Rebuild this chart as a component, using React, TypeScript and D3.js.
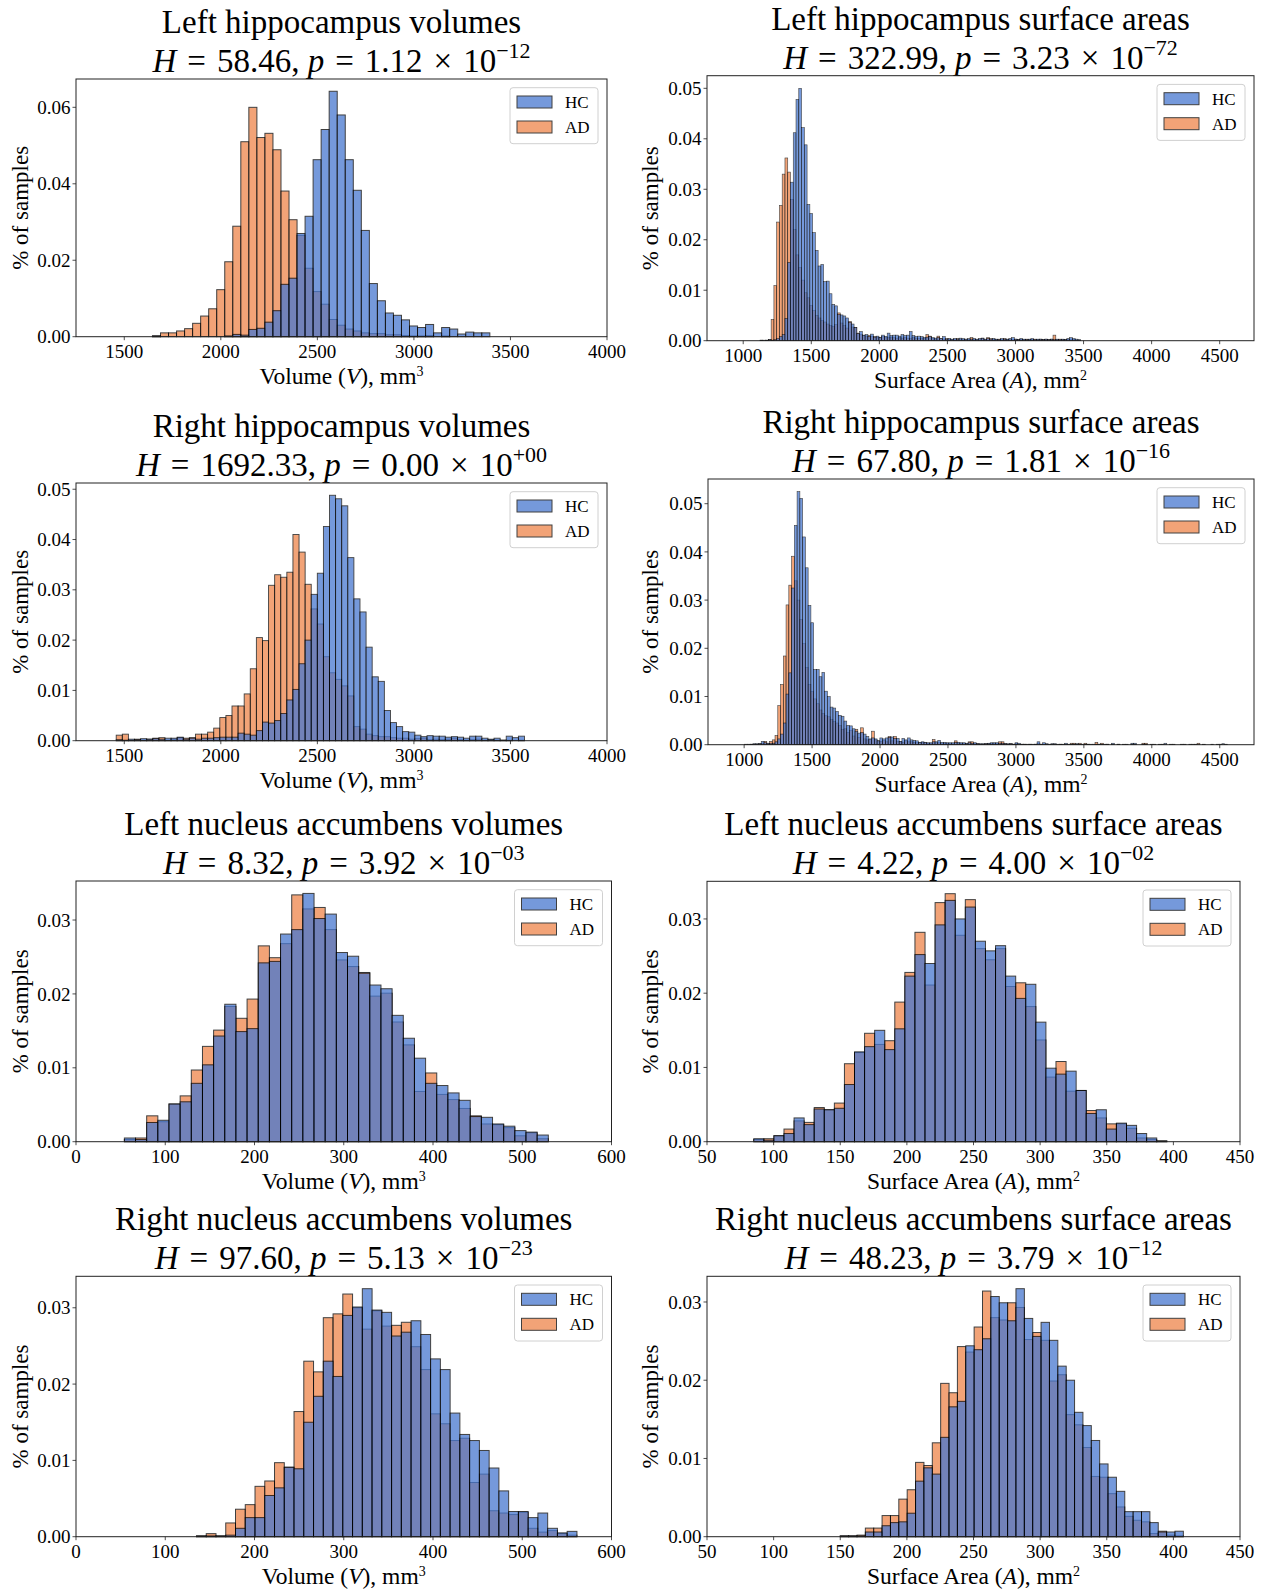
import React from "react";
import * as d3 from "d3";

const FONT = "'Liberation Serif', 'Times New Roman', serif";
const HC_COLOR = "#4878d0";
const AD_COLOR = "#ee854a";

// ---------- Panel 1: Left hippocampus volumes ----------
const lhVolBinStart = 1646;
const lhVolBinWidth = 41.6;
const lhVolHC = [0.0002, 0, 0, 0, 0, 0, 0, 0, 0, 0.0002, 0.0006, 0.0004, 0.0019, 0.0022, 0.0038, 0.0068, 0.0137, 0.0153, 0.027, 0.0315, 0.0463, 0.0542, 0.0642, 0.058, 0.0463, 0.0383, 0.0278, 0.0139, 0.0094, 0.0062, 0.0056, 0.0044, 0.0028, 0.0024, 0.0032, 0.001, 0.0024, 0.002, 0.0007, 0.0012, 0.001, 0.001];
const lhVolAD = [0.0002, 0.001, 0.001, 0.0015, 0.0021, 0.0035, 0.0054, 0.0073, 0.0123, 0.0196, 0.0289, 0.051, 0.06, 0.0521, 0.0532, 0.0489, 0.0381, 0.0306, 0.0265, 0.0179, 0.0118, 0.0085, 0.0045, 0.003, 0.002, 0.0015, 0.001, 0.0008, 0.0008, 0.0005, 0.0005, 0.0003, 0.0002, 0.0002, 0.0003, 0, 0.0002, 0, 0, 0, 0, 0];

// ---------- Panel 2: Left hippocampus surface areas ----------
const lhSurfBinStart = 1124;
const lhSurfBinWidth = 20.3;
const lhSurfHC = [
  0.0001, 0.0001, 0.0001, 0.0002, 0.0001, 0.0002, 0.0004, 0.0008, 0.0012, 0.0044,
  0.0155, 0.0314, 0.0412, 0.0478, 0.05, 0.0422, 0.0388, 0.027, 0.0252, 0.0214,
  0.0179, 0.0148, 0.0151, 0.0117, 0.0118, 0.0093, 0.0072, 0.0069, 0.0052, 0.0051,
  0.0049, 0.0045, 0.0036, 0.0033, 0.0026, 0.0014, 0.0018, 0.0011, 0.0012, 0.0008,
  0.0013, 0.0007, 0.0009, 0.0006,
  0.0011, 0.0008, 0.0015, 0.001, 0.0011, 0.0011, 0.0009, 0.0012, 0.001, 0.0011,
  0.0018, 0.001, 0.0008, 0.0009, 0.0008, 0.0006, 0.0007, 0.0008, 0.0006, 0.0005,
  0.0006, 0.0004, 0.0008, 0.0003, 0.0004, 0.0003, 0.0004, 0.0003, 0.0005, 0.0004,
  0.0003, 0.0004, 0.0003, 0.0004, 0.0003, 0.0004, 0.0005, 0.0003, 0.0004, 0.0003,
  0.0004, 0.0003, 0.0002, 0.0004, 0.0003, 0.0003, 0.0004, 0.0006, 0.0003, 0.0002,
  0.0004, 0.0003, 0.0002, 0.0003, 0.0004, 0.0002, 0.0003, 0.0003, 0.0002, 0.0003,
  0.0002, 0.0003, 0.0002, 0.0003, 0.0002, 0.0003, 0.0002, 0.0004, 0.0006, 0.0004,
  0.0003, 0.0002,
];
const lhSurfAD = [
  0.0001, 0, 0.0001, 0.0002, 0.0042, 0.0109, 0.0235, 0.0268, 0.033, 0.0362,
  0.0334, 0.028, 0.022, 0.017, 0.0145, 0.012, 0.0095, 0.0085, 0.007, 0.006,
  0.005, 0.0045, 0.004, 0.0037, 0.0033, 0.003, 0.0028, 0.0032, 0.0055, 0.0035,
  0.003, 0.0025, 0.0038, 0.0027, 0.0026, 0.0015, 0.0012, 0.001, 0.0009, 0.001,
  0.0008, 0.0008, 0.0007, 0.0006,
  0.0008, 0.0007, 0.0006, 0.0007, 0.0006, 0.0005, 0.0006, 0.0005, 0.0006, 0.0005,
  0.0004, 0.0006, 0.0005, 0.0004, 0.0005, 0.0004, 0.0012, 0.0009, 0.0004, 0.0003,
  0.0009, 0.0004, 0.0003, 0.0004, 0.0003, 0.0002, 0.0003, 0.0004, 0.0003, 0.0002,
  0.0003, 0.0002, 0.0006, 0.0003, 0.0002, 0.0003, 0.0005, 0.0002, 0.0006, 0.0004,
  0.0003, 0.0002, 0.0003, 0.0002, 0.0004, 0.0002, 0.0003, 0.0002, 0.0003, 0.0002,
  0.0003, 0.0002, 0.0003, 0.0002, 0.0002, 0.0003, 0.0002, 0.0003, 0.0002, 0.0003,
  0.0002, 0.0003, 0.0011, 0.0002, 0.0003, 0.0002, 0.0002, 0.0003, 0.0002, 0.0002,
  0.0001, 0.0001,
];

// ---------- Panel 3: Right hippocampus volumes ----------
const rhVolBinStart = 1458.3;
const rhVolBinWidth = 31.56;
const rhVolHC = [
  0.0002, 0.0001, 0.0003, 0.0002, 0.0004, 0.0003, 0.0004, 0.0003, 0.0005, 0.0005,
  0.0007, 0.0003, 0.0005, 0.0003, 0.0005, 0.0005, 0.0006, 0.0007, 0.0007, 0.0007,
  0.0015, 0.0013, 0.0011, 0.002, 0.0037, 0.0035, 0.004, 0.0054, 0.0081, 0.0102,
  0.0153, 0.02, 0.0291, 0.0333, 0.0426, 0.0488, 0.0481, 0.0467, 0.0364, 0.0282,
  0.0256, 0.0186, 0.0127, 0.0118, 0.006, 0.0036, 0.0028, 0.0018, 0.0017, 0.0011,
  0.0008, 0.001, 0.0009, 0.0009, 0.0007, 0.0008, 0.0007, 0.0005, 0.0009, 0.0009,
  0.0005, 0.0003, 0.0005, 0.0001, 0.0009, 0.0006, 0.0009,
];
const rhVolAD = [
  0.0011, 0.0013, 0.0001, 0.0003, 0.0001, 0.0003, 0.0005, 0.0006, 0.0001, 0.0003,
  0.0006, 0.0005, 0.0006, 0.0013, 0.0013, 0.0017, 0.0025, 0.0046, 0.005, 0.0069,
  0.0069, 0.0093, 0.0143, 0.0205, 0.0199, 0.0309, 0.033, 0.0325, 0.0335, 0.041,
  0.0375, 0.0311, 0.0262, 0.0232, 0.0167, 0.0135, 0.0122, 0.0109, 0.0089, 0.0028,
  0.0023, 0.0013, 0.001, 0.0008, 0.0008, 0.0006, 0.0005, 0.0005, 0.0003, 0.0004,
  0.0005, 0.0002, 0.0003, 0.0002, 0.0003, 0.0005, 0.0002, 0.0001, 0.0002, 0.0003,
  0.0001, 0.0002, 0.0001, 0.0001, 0.0001, 0, 0.0001,
];

// ---------- Panel 4: Right hippocampus surface areas ----------
const rhSurfBinStart = 1004;
const rhSurfBinWidth = 20.3;
const rhSurfHC = [
  0.0001, 0.0001, 0.0001, 0.0002, 0.0002, 0.0002, 0.0007, 0.0004, 0.0003, 0.0003,
  0.0003, 0.0006, 0.0012, 0.0022, 0.0045, 0.0105, 0.0149, 0.0325, 0.0455, 0.0525,
  0.0511, 0.0431, 0.0367, 0.0289, 0.0253, 0.0156, 0.0156, 0.0141, 0.015, 0.0111,
  0.01, 0.0078, 0.0076, 0.0069, 0.0061, 0.0059, 0.0049, 0.004, 0.0039, 0.0033,
  0.0028, 0.0024, 0.0025, 0.0022, 0.0017, 0.0012, 0.0014, 0.0012, 0.0008, 0.0014,
  0.0012, 0.0014, 0.0015, 0.0016, 0.0013, 0.0013, 0.0007, 0.0013, 0.001, 0.0014,
  0.001, 0.0009, 0.0008, 0.0005, 0.0006, 0.0005, 0.0004, 0.0004, 0.0006, 0.0006,
  0.0009, 0.0005, 0.0005, 0.0004, 0.0004, 0.0004, 0.0005, 0.0005, 0.0004, 0.0004,
  0.0003, 0.0004, 0.0003, 0.0004, 0.0002, 0.0002, 0.0002, 0.0002, 0.0003, 0.0004,
  0.0004, 0.0004, 0.0003, 0.0003, 0.0002, 0.0002, 0.0002, 0.0001, 0.0004, 0.0003,
  0.0001, 0.0001, 0.0001, 0.0001, 0.0001, 0.0001, 0.0006, 0.0001, 0.0004, 0.0002,
  0.0001, 0.0002, 0.0002, 0.0001, 0.0001, 0.0001, 0.0003, 0.0001, 0.0001, 0.0001,
  0.0002, 0.0001, 0.0001, 0.0001, 0.0001, 0.0001, 0, 0.0001, 0.0001, 0.0001,
  0.0001, 0.0001, 0, 0.0003, 0, 0.0001, 0, 0.0001, 0, 0,
  0.0003, 0.0003, 0, 0, 0.0001, 0.0001, 0, 0, 0.0001, 0,
  0.0001, 0, 0.0003, 0, 0, 0.0001, 0, 0, 0.0001, 0,
  0, 0.0001, 0.0001, 0, 0, 0, 0.0001, 0, 0, 0.0001,
  0, 0, 0.0001, 0.0002, 0.0001,
];
const rhSurfAD = [
  0, 0, 0.0001, 0.0001, 0.0001, 0.0002, 0.0003, 0.0007, 0.0003, 0.0007,
  0.001, 0.0019, 0.0081, 0.0125, 0.0184, 0.029, 0.0331, 0.0391, 0.034, 0.03,
  0.026, 0.021, 0.016, 0.0125, 0.011, 0.0095, 0.0085, 0.0072, 0.0065, 0.006,
  0.0058, 0.0052, 0.0048, 0.0045, 0.004, 0.0032, 0.0033, 0.0025, 0.003, 0.0018,
  0.0032, 0.0015, 0.0035, 0.0012, 0.001, 0.0011, 0.0028, 0.001, 0.0008, 0.0007,
  0.0009, 0.0006, 0.0017, 0.0008, 0.0017, 0.0007, 0.0006, 0.0005, 0.0008, 0.0006,
  0.0006, 0.0005, 0.0004, 0.0004, 0.0005, 0.0004, 0.0003, 0.0003, 0.0011, 0.0004,
  0.0004, 0.0003, 0.0003, 0.0003, 0.0002, 0.0002, 0.0008, 0.0003, 0.0002, 0.0003,
  0.0002, 0.0006, 0.0006, 0.0003, 0.0002, 0.0001, 0.0001, 0.0002, 0.0002, 0.0002,
  0.0003, 0.0002, 0.0006, 0.0006, 0.0002, 0.0001, 0.0002, 0.0001, 0.0002, 0.0001,
  0.0001, 0.0001, 0, 0.0001, 0, 0.0001, 0.0002, 0.0001, 0.0001, 0.0001,
  0, 0.0001, 0.0001, 0, 0.0001, 0, 0.0001, 0, 0.0003, 0.0003,
  0.0001, 0.0003, 0, 0.0003, 0.0001, 0, 0.0001, 0.0005, 0.0001, 0.0003,
  0, 0.0001, 0, 0.0001, 0, 0.0001, 0, 0, 0.0001, 0,
  0.0001, 0.0001, 0, 0, 0.0003, 0.0003, 0, 0.0001, 0, 0,
  0, 0.0001, 0, 0, 0.0001, 0, 0, 0, 0, 0.0001,
  0, 0, 0, 0.0001, 0.0003, 0, 0, 0, 0, 0,
  0, 0.0001, 0, 0, 0,
];

// ---------- Panel 5: Left nucleus accumbens volumes ----------
const lnaVolBinStart = 54.2;
const lnaVolBinWidth = 12.5;
const lnaVolHC = [0.0005, 0.0003, 0.0026, 0.0029, 0.0051, 0.0054, 0.0079, 0.0104, 0.0143, 0.0186, 0.0149, 0.0153, 0.0242, 0.0244, 0.0281, 0.0287, 0.0336, 0.0302, 0.0308, 0.0256, 0.0251, 0.0228, 0.0212, 0.0207, 0.0171, 0.014, 0.0113, 0.0079, 0.0076, 0.0066, 0.0056, 0.0034, 0.0033, 0.0024, 0.0021, 0.0015, 0.0013, 0.0009];
const lnaVolAD = [0.0003, 0.0005, 0.0035, 0.0027, 0.0051, 0.0062, 0.0097, 0.0129, 0.0151, 0.0183, 0.0167, 0.0193, 0.0265, 0.0249, 0.0268, 0.0334, 0.0315, 0.0317, 0.0287, 0.0246, 0.0237, 0.0229, 0.0197, 0.0201, 0.0162, 0.0131, 0.0068, 0.0093, 0.0064, 0.0057, 0.0045, 0.0035, 0.0024, 0.0023, 0.0019, 0.0008, 0.0012, 0.0004];

// ---------- Panel 6: Left nucleus accumbens surface areas ----------
const lnaSurfBinStart = 85.1;
const lnaSurfBinWidth = 7.56;
const lnaSurfHC = [0.0004, 0.0002, 0.0008, 0.0011, 0.0032, 0.0023, 0.0044, 0.0043, 0.0045, 0.0077, 0.0121, 0.0128, 0.015, 0.0124, 0.0152, 0.0223, 0.0252, 0.024, 0.0292, 0.0325, 0.03, 0.0316, 0.027, 0.0257, 0.0264, 0.0223, 0.0193, 0.0212, 0.0161, 0.0099, 0.0091, 0.0095, 0.0069, 0.0038, 0.0043, 0.0017, 0.0025, 0.0022, 0.0011, 0.0005, 0.0001];
const lnaSurfAD = [0.0003, 0.0004, 0.0008, 0.0017, 0.0028, 0.0026, 0.0046, 0.0043, 0.0052, 0.0105, 0.012, 0.0146, 0.0131, 0.0136, 0.0188, 0.0228, 0.0282, 0.0211, 0.0322, 0.0334, 0.0278, 0.0326, 0.026, 0.0245, 0.026, 0.0209, 0.0214, 0.0182, 0.0137, 0.0087, 0.0108, 0.0068, 0.0069, 0.0042, 0.0032, 0.0024, 0.0024, 0.0018, 0.0005, 0.0003, 0.0001];

// ---------- Panel 7: Right nucleus accumbens volumes ----------
const rnaVolBinStart = 135;
const rnaVolBinWidth = 10.93;
const rnaVolHC = [0.0001, 0.0001, 0.0001, 0.0002, 0.0011, 0.0025, 0.0025, 0.0054, 0.0064, 0.0091, 0.0089, 0.015, 0.0184, 0.023, 0.021, 0.029, 0.0301, 0.0325, 0.0297, 0.0294, 0.0263, 0.0268, 0.0283, 0.0265, 0.0233, 0.0219, 0.0162, 0.0134, 0.0126, 0.0113, 0.009, 0.006, 0.0033, 0.0033, 0.0025, 0.0031, 0.0011, 0.0005, 0.0007];
const rnaVolAD = [0.0001, 0.0004, 0.0001, 0.0018, 0.0036, 0.0042, 0.0066, 0.0073, 0.0097, 0.0091, 0.0164, 0.023, 0.0216, 0.0287, 0.0292, 0.0318, 0.03, 0.0272, 0.0296, 0.0276, 0.0277, 0.0281, 0.0249, 0.0219, 0.0161, 0.0148, 0.0126, 0.0129, 0.0071, 0.0082, 0.0034, 0.0031, 0.0029, 0.0032, 0.0011, 0.0006, 0.0008, 0.0004, 0.0002];

// ---------- Panel 8: Right nucleus accumbens surface areas ----------
const rnaSurfBinStart = 150;
const rnaSurfBinWidth = 6.28;
const rnaSurfHC = [0.0001, 0.0001, 0.0001, 0.0006, 0.0006, 0.0014, 0.0018, 0.0019, 0.003, 0.0071, 0.0088, 0.008, 0.0127, 0.0166, 0.0173, 0.0244, 0.0239, 0.0253, 0.0307, 0.0299, 0.0276, 0.0317, 0.0279, 0.0256, 0.0274, 0.0251, 0.0218, 0.02, 0.0159, 0.0142, 0.0123, 0.0093, 0.0076, 0.0058, 0.0032, 0.0032, 0.0032, 0.0018, 0.0006, 0.0006, 0.0007];
const rnaSurfAD = [0.0001, 0.0001, 0.0002, 0.0011, 0.0011, 0.0027, 0.0027, 0.0048, 0.006, 0.0095, 0.0091, 0.012, 0.0196, 0.0184, 0.0243, 0.0236, 0.0268, 0.0314, 0.028, 0.0277, 0.0299, 0.0293, 0.0252, 0.0261, 0.0251, 0.0199, 0.0207, 0.0156, 0.0143, 0.0114, 0.0077, 0.0076, 0.0055, 0.0038, 0.0026, 0.0021, 0.0019, 0.0004, 0.0007, 0.0002, 0.0001];

// ---------- Titles / statistics ----------
const titles = [
  "Left hippocampus volumes", "Left hippocampus surface areas",
  "Right hippocampus volumes", "Right hippocampus surface areas",
  "Left nucleus accumbens volumes", "Left nucleus accumbens surface areas",
  "Right nucleus accumbens volumes", "Right nucleus accumbens surface areas",
];
const hStats = ["58.46", "322.99", "1692.33", "67.80", "8.32", "4.22", "97.60", "48.23"];
const pMantissas = ["1.12", "3.23", "0.00", "1.81", "3.92", "4.00", "5.13", "3.79"];
const pExponents = ["\u221212", "\u221272", "+00", "\u221216", "\u221203", "\u221202", "\u221223", "\u221212"];

// tick values
const hippoVolTicks = [1500, 2000, 2500, 3000, 3500, 4000];
const hippoSurfTicks = [1000, 1500, 2000, 2500, 3000, 3500, 4000, 4500];
const naVolTicks = [0, 100, 200, 300, 400, 500, 600];
const naSurfTicks = [50, 100, 150, 200, 250, 300, 350, 400, 450];
const yTicks06 = [0, 0.02, 0.04, 0.06];
const yTicks05 = [0, 0.01, 0.02, 0.03, 0.04, 0.05];
const yTicks03 = [0, 0.01, 0.02, 0.03];

type Box = { x0: number; x1: number; y0: number; y1: number };
type PanelCfg = {
  idx: number;
  kind: "vol" | "surf";
  binStart: number;
  binWidth: number;
  hc: number[];
  ad: number[];
  xDomain: [number, number];
  xTicks: number[];
  yTicks: number[];
  box: Box;
  ylabelX: number;
  sw: number;
};

const panels: PanelCfg[] = [
  { idx: 0, kind: "vol", binStart: lhVolBinStart, binWidth: lhVolBinWidth, hc: lhVolHC, ad: lhVolAD, xDomain: [1250, 4000], xTicks: hippoVolTicks, yTicks: yTicks06, box: { x0: 76, x1: 607, y0: 79, y1: 336.7 }, ylabelX: 28, sw: 1 },
  { idx: 1, kind: "surf", binStart: lhSurfBinStart, binWidth: lhSurfBinWidth, hc: lhSurfHC, ad: lhSurfAD, xDomain: [734, 4752], xTicks: hippoSurfTicks, yTicks: yTicks05, box: { x0: 707, x1: 1254, y0: 75.7, y1: 340.7 }, ylabelX: 658, sw: 0.6 },
  { idx: 2, kind: "vol", binStart: rhVolBinStart, binWidth: rhVolBinWidth, hc: rhVolHC, ad: rhVolAD, xDomain: [1250, 4000], xTicks: hippoVolTicks, yTicks: yTicks05, box: { x0: 76, x1: 607, y0: 483, y1: 740.7 }, ylabelX: 28, sw: 0.9 },
  { idx: 3, kind: "surf", binStart: rhSurfBinStart, binWidth: rhSurfBinWidth, hc: rhSurfHC, ad: rhSurfAD, xDomain: [734, 4752], xTicks: hippoSurfTicks, yTicks: yTicks05, box: { x0: 708, x1: 1254, y0: 479, y1: 744.7 }, ylabelX: 658, sw: 0.6 },
  { idx: 4, kind: "vol", binStart: lnaVolBinStart, binWidth: lnaVolBinWidth, hc: lnaVolHC, ad: lnaVolAD, xDomain: [0, 600], xTicks: naVolTicks, yTicks: yTicks03, box: { x0: 76, x1: 611.5, y0: 881, y1: 1141.7 }, ylabelX: 28, sw: 1 },
  { idx: 5, kind: "surf", binStart: lnaSurfBinStart, binWidth: lnaSurfBinWidth, hc: lnaSurfHC, ad: lnaSurfAD, xDomain: [50, 450], xTicks: naSurfTicks, yTicks: yTicks03, box: { x0: 707, x1: 1240, y0: 881.3, y1: 1141.7 }, ylabelX: 658, sw: 1 },
  { idx: 6, kind: "vol", binStart: rnaVolBinStart, binWidth: rnaVolBinWidth, hc: rnaVolHC, ad: rnaVolAD, xDomain: [0, 600], xTicks: naVolTicks, yTicks: yTicks03, box: { x0: 76, x1: 611.5, y0: 1276.3, y1: 1536.7 }, ylabelX: 28, sw: 1 },
  { idx: 7, kind: "surf", binStart: rnaSurfBinStart, binWidth: rnaSurfBinWidth, hc: rnaSurfHC, ad: rnaSurfAD, xDomain: [50, 450], xTicks: naSurfTicks, yTicks: yTicks03, box: { x0: 707, x1: 1240, y0: 1276.3, y1: 1536.7 }, ylabelX: 658, sw: 1 },
];

const SPINE = "#222";
const EQ = "\u2004=\u2004";
const TIMES = "\u2004\u00d7\u2004";

function HistPanel({ p }: { p: PanelCfg }) {
  const { box } = p;
  const x = d3.scaleLinear().domain(p.xDomain).range([box.x0, box.x1]);
  const ymax = 1.05 * (d3.max(p.hc.concat(p.ad)) as number);
  const y = d3.scaleLinear().domain([0, ymax]).range([box.y1, box.y0]);
  const cx = (box.x0 + box.x1) / 2;
  const cy = (box.y0 + box.y1) / 2;

  const bars = (vals: number[], color: string, key: string) =>
    vals.map((v, i) => {
      const a = p.binStart + i * p.binWidth;
      const b = a + p.binWidth;
      return (
        <rect
          key={key + i}
          x={x(a)}
          y={y(v)}
          width={x(b) - x(a)}
          height={y(0) - y(v)}
          fill={color}
          stroke="#000"
          strokeWidth={p.sw}
          opacity={0.75}
        />
      );
    });

  const lx1 = box.x1 - 9;
  const lx0 = lx1 - 88;
  const ly0 = box.y0 + 8.7;
  const fmtY = d3.format(".2f");

  return (
    <g>
      {/* titles */}
      <text x={cx} y={box.y0 - 46} textAnchor="middle" fontSize={33}>
        {titles[p.idx]}
      </text>
      <text x={cx} y={box.y0 - 7} textAnchor="middle" fontSize={33}>
        <tspan fontStyle="italic">H</tspan>
        <tspan>{EQ + hStats[p.idx] + ", "}</tspan>
        <tspan fontStyle="italic">p</tspan>
        <tspan>{EQ + pMantissas[p.idx] + TIMES + "10"}</tspan>
        <tspan dy={-14} fontSize={22}>{pExponents[p.idx]}</tspan>
      </text>

      {/* bars: AD below, HC on top */}
      <g>{bars(p.ad, AD_COLOR, "ad")}</g>
      <g>{bars(p.hc, HC_COLOR, "hc")}</g>

      {/* spines */}
      <rect x={box.x0} y={box.y0} width={box.x1 - box.x0} height={box.y1 - box.y0} fill="none" stroke={SPINE} strokeWidth={1} />

      {/* x ticks */}
      {p.xTicks.map((t) => (
        <g key={"xt" + t}>
          <line x1={x(t)} x2={x(t)} y1={box.y1} y2={box.y1 + 3.5} stroke={SPINE} strokeWidth={0.8} />
          <text x={x(t)} y={box.y1 + 21.5} textAnchor="middle" fontSize={19}>
            {t}
          </text>
        </g>
      ))}
      {/* y ticks */}
      {p.yTicks.map((t) => (
        <g key={"yt" + t}>
          <line x1={box.x0 - 3.5} x2={box.x0} y1={y(t)} y2={y(t)} stroke={SPINE} strokeWidth={0.8} />
          <text x={box.x0 - 5.5} y={y(t)} dy="0.35em" textAnchor="end" fontSize={19}>
            {fmtY(t)}
          </text>
        </g>
      ))}

      {/* axis labels */}
      <text x={cx} y={box.y1 + 47} textAnchor="middle" fontSize={23.5}>
        {p.kind === "vol" ? (
          <>
            <tspan>{"Volume ("}</tspan>
            <tspan fontStyle="italic">V</tspan>
            <tspan>{"), mm"}</tspan>
            <tspan dy={-8} fontSize={14}>3</tspan>
          </>
        ) : (
          <>
            <tspan>{"Surface Area ("}</tspan>
            <tspan fontStyle="italic">A</tspan>
            <tspan>{"), mm"}</tspan>
            <tspan dy={-8} fontSize={14}>2</tspan>
          </>
        )}
      </text>
      <text transform={`translate(${p.ylabelX},${cy}) rotate(-90)`} textAnchor="middle" fontSize={23}>
        % of samples
      </text>

      {/* legend */}
      <rect x={lx0} y={ly0} width={88} height={56} rx={3} fill="#fff" fillOpacity={0.8} stroke="#d0d0d0" strokeWidth={1} />
      <rect x={lx0 + 7} y={ly0 + 8.3} width={35} height={12} fill={HC_COLOR} stroke="#000" strokeWidth={1} opacity={0.75} />
      <text x={lx0 + 55} y={ly0 + 20.3} fontSize={17}>HC</text>
      <rect x={lx0 + 7} y={ly0 + 33.3} width={35} height={12} fill={AD_COLOR} stroke="#000" strokeWidth={1} opacity={0.75} />
      <text x={lx0 + 55} y={ly0 + 45.3} fontSize={17}>AD</text>
    </g>
  );
}

export default function App() {
  return (
    <svg
      width={1263}
      height={1592}
      style={{ position: "absolute", left: 0, top: 0, background: "#fff" }}
      fontFamily={FONT}
      fill="#000"
    >
      <rect x={0} y={0} width={1263} height={1592} fill="#fff" />
      {panels.map((p) => (
        <HistPanel key={p.idx} p={p} />
      ))}
    </svg>
  );
}
